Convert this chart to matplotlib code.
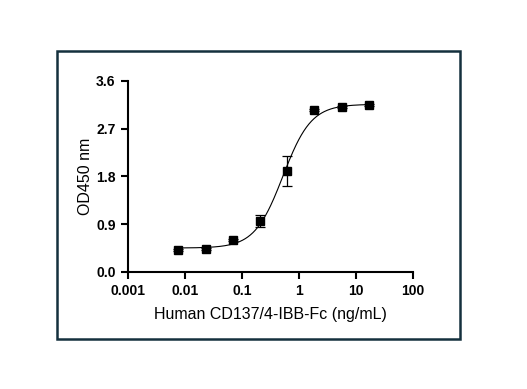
import numpy as np
import matplotlib
matplotlib.use("Agg")
import matplotlib.pyplot as plt
from matplotlib.patches import Rectangle

# serial 3-fold dilution (ng/mL) and OD450 readings
conc = [0.00762, 0.0229, 0.0686, 0.206, 0.617, 1.85, 5.56, 16.67]
od450 = [0.41, 0.44, 0.60, 0.96, 1.90, 3.06, 3.11, 3.14]
od_err = [0.02, 0.02, 0.02, 0.12, 0.28, 0.02, 0.02, 0.02]

# 4PL fit parameters
fit_bottom = 0.45
fit_top = 3.16
fit_ec50 = 0.52
fit_hill = 1.75

y_ticks = [0.0, 0.9, 1.8, 2.7, 3.6]
x_ticks = [0.001, 0.01, 0.1, 1, 10, 100]
x_ticklabels = ["0.001", "0.01", "0.1", "1", "10", "100"]

plt.rcParams['font.family'] = ['Liberation Sans', 'DejaVu Sans']

fig = plt.figure(figsize=(5.27, 3.89), dpi=100)
ax = fig.add_axes([0.243, 0.301, 0.541, 0.491])

# frame around the plot
fig.patches.append(Rectangle((0.108, 0.1285), 0.765, 0.740, transform=fig.transFigure,
                             fill=False, edgecolor='#14303d', linewidth=1.8))

xs = np.logspace(np.log10(conc[0]), np.log10(conc[-1]), 300)
ys = fit_bottom + (fit_top - fit_bottom) / (1 + (fit_ec50 / xs) ** fit_hill)
ax.plot(xs, ys, color='black', linewidth=0.8)

ax.errorbar(conc, od450, yerr=od_err, fmt='s', color='black', markersize=6.3,
            elinewidth=0.9, capsize=3.5, capthick=0.9)

ax.set_xscale('log')
ax.set_xlim(0.001, 100)
ax.set_ylim(0, 3.6)
ax.set_xticks(x_ticks)
ax.set_xticklabels(x_ticklabels)
ax.xaxis.set_minor_locator(matplotlib.ticker.NullLocator())
ax.set_yticks(y_ticks)
ax.set_yticklabels([f"{v:.1f}" for v in y_ticks])

for s in ['top', 'right']:
    ax.spines[s].set_visible(False)
for s in ['left', 'bottom']:
    ax.spines[s].set_linewidth(1.5)

ax.tick_params(width=1.5, length=5, labelsize=10, pad=4)
for lab in ax.get_xticklabels() + ax.get_yticklabels():
    lab.set_fontweight('bold')

ax.set_xlabel("Human CD137/4-IBB-Fc (ng/mL)", fontsize=11.5, labelpad=6)
ax.set_ylabel("OD450 nm", fontsize=11.5, labelpad=2)

fig.savefig("out.png", dpi=100)
